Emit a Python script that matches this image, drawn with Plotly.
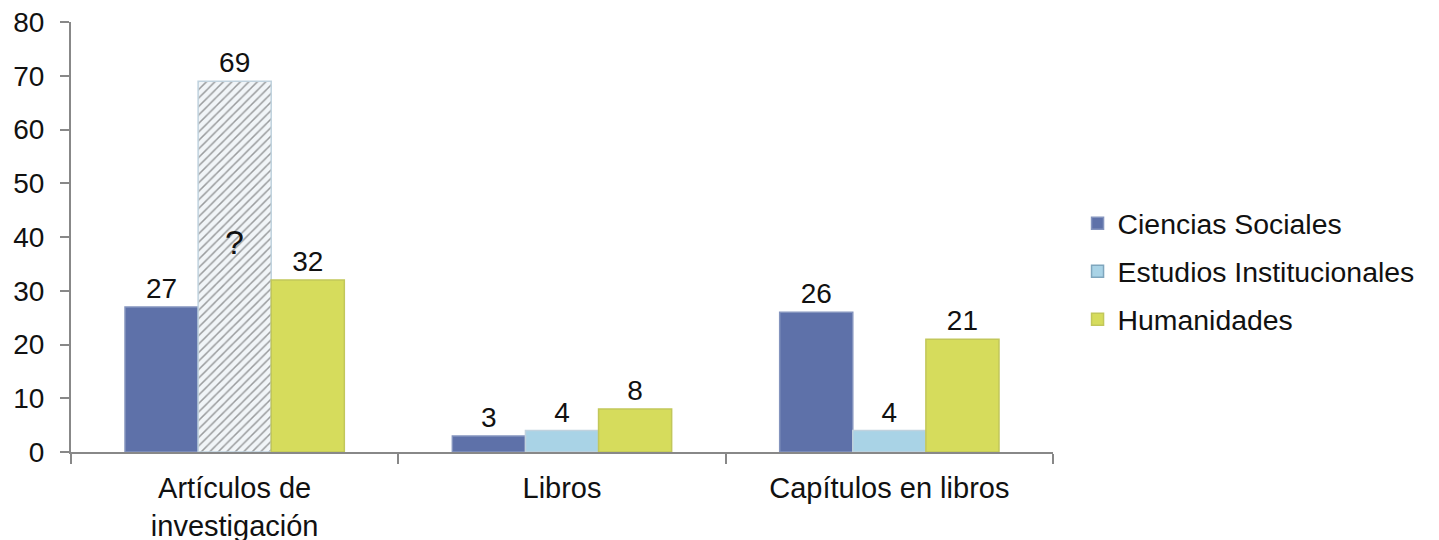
import plotly.graph_objects as go

categories = ["Artículos de<br>investigación", "Libros", "Capítulos en libros"]
ciencias_sociales = [27, 3, 26]
estudios_institucionales = [69, 4, 4]
humanidades = [32, 8, 21]
y_ticks = [0, 10, 20, 30, 40, 50, 60, 70, 80]
question_mark = "?"
question_y = 39

FONT = "Liberation Sans, Arial, sans-serif"
FS = 28
FS_LEG = 28.4

fig = go.Figure()
fig.add_trace(go.Bar(
    name="Ciencias Sociales", x=categories, y=ciencias_sociales,
    text=ciencias_sociales, textposition="outside",
    marker=dict(color="#5E71A9", line=dict(color="#8494BE", width=1.5)),
    legendgroup="a", offsetgroup="a",
))
fig.add_trace(go.Bar(
    name="Estudios Institucionales", x=categories, y=estudios_institucionales,
    text=estudios_institucionales, textposition="outside",
    marker=dict(color=["#F1F5F8", "#A9D3E6", "#A9D3E6"],
                line=dict(color="#C0D2DE", width=1.5),
                pattern=dict(shape=["/", "", ""], fgcolor="#A9BDD0",
                             bgcolor="#F1F5F8", size=6, solidity=0.25, fillmode="overlay")),
    legendgroup="b", offsetgroup="b", showlegend=False,
))
# legend entry for the same series shown with the plain swatch colour
fig.add_trace(go.Bar(
    name="Estudios Institucionales", x=[categories[1]], y=[None],
    marker=dict(color="#A9D3E6", line=dict(color="#7FA6BD", width=1.5)),
    legendgroup="b", offsetgroup="b", showlegend=True, hoverinfo="skip",
))
fig.add_trace(go.Bar(
    name="Humanidades", x=categories, y=humanidades,
    text=humanidades, textposition="outside",
    marker=dict(color="#D6DC5C", line=dict(color="#C2C75A", width=1.5)),
    legendgroup="c", offsetgroup="c",
))

fig.add_annotation(x=categories[0], y=question_y, text=question_mark, showarrow=False,
                   font=dict(family=FONT, size=34, color="#111"))

fig.update_traces(textfont=dict(family=FONT, size=FS, color="#111"), cliponaxis=False)

fig.update_layout(
    width=1431, height=532,
    margin=dict(l=63, r=386, t=14, b=88),
    paper_bgcolor="white", plot_bgcolor="white",
    barmode="group", bargap=0.33, bargroupgap=0,
    font=dict(family=FONT, size=FS, color="#111"),
    showlegend=True,
    legend=dict(x=1.025, y=0.42, xanchor="left", yanchor="middle",
                font=dict(family=FONT, size=FS_LEG, color="#111"),
                tracegroupgap=8, traceorder="grouped", itemwidth=30),
    xaxis=dict(type="category", tickson="boundaries", ticks="outside", ticklen=10,
               tickcolor="#888", tickwidth=2, showline=True, linecolor="#888", linewidth=2,
               showgrid=False, automargin=False, ticklabelstandoff=9,
               tickfont=dict(family=FONT, size=29, color="#111")),
    yaxis=dict(range=[0, 80], tickvals=y_ticks, ticks="outside", ticklen=9,
               tickcolor="#888", tickwidth=2, showline=True, linecolor="#888", linewidth=2,
               showgrid=False, zeroline=False, automargin=False, ticklabelstandoff=10,
               ticklabeloverflow="allow",
               tickfont=dict(family=FONT, size=FS, color="#111")),
)

fig.write_html("out.html")
